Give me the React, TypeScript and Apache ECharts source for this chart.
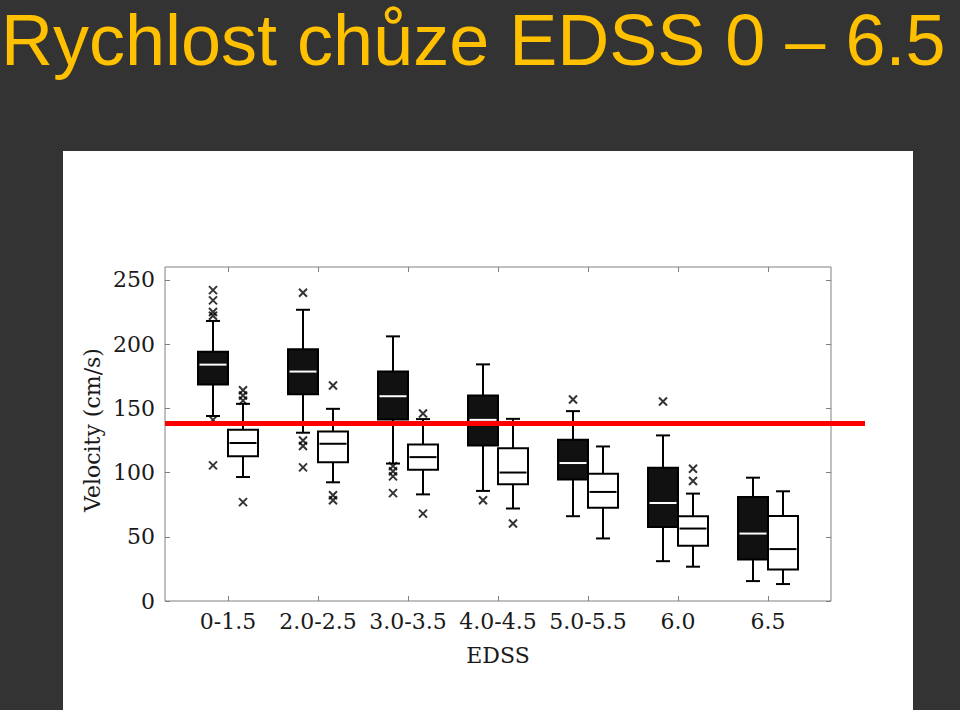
import React, { useEffect, useRef } from "react";
import * as echarts from "echarts";

const TITLE = "Rychlost chůze EDSS 0 – 6.5";
const Y_NAME = "Velocity (cm/s)";
const X_NAME = "EDSS";
const categories = ["0-1.5", "2.0-2.5", "3.0-3.5", "4.0-4.5", "5.0-5.5", "6.0", "6.5"];
const categoryPositions = [0, 1, 2, 3, 4, 5, 6];
const yTicks = [0, 50, 100, 150, 200, 250];

// [min, Q1, median, Q3, max]
const blackStats = [
  [144, 168.5, 184, 194, 218],
  [131, 161, 178.6, 196, 226.7],
  [107, 141.3, 159.4, 178.6, 206],
  [85.7, 121, 141, 160, 184.2],
  [66, 94.5, 107.4, 125.5, 147.8],
  [31, 57.7, 76.3, 103.8, 128.9],
  [15.5, 32.4, 52.5, 81, 96],
];
const whiteStats = [
  [96.5, 112.6, 123, 133.3, 153.5],
  [92.4, 108, 122.4, 132, 149.6],
  [83, 102.2, 112, 121.9, 141.6],
  [72, 90.8, 100, 119, 141.8],
  [48.7, 72.5, 84.9, 99, 120.3],
  [26.7, 43, 56.4, 66, 83.6],
  [13.2, 24.6, 40.4, 66.2, 85.4],
];
// [group index, value]
const blackOutliers = [
  [0, 242], [0, 234], [0, 225], [0, 222], [0, 141], [0, 105.6],
  [1, 240], [1, 125], [1, 120.6], [1, 104],
  [2, 105], [2, 101], [2, 97], [2, 84],
  [3, 78.4],
  [4, 156.8],
  [5, 155.3],
];
const whiteOutliers = [
  [0, 164], [0, 160], [0, 156], [0, 77],
  [1, 167.7], [1, 82.3], [1, 78.4],
  [2, 146], [2, 68],
  [3, 60.3],
  [5, 103], [5, 93.4],
];
const THRESHOLD = 138.2;

const X_MIN = -0.7;
const X_MAX = 6.7;
const Y_MIN = 0;
const Y_MAX = 260;
const SIDE = 1 / 6; // box centre offset from group centre (axis units)
const BOX_HALF = 1 / 6;
const CAP_HALF = 0.078;
const AXIS_GRAY = "#808080";
const TEXT_COLOR = "#1a1a1a";
const SERIF = "DejaVu Serif";

function boxRenderer(offset: number, fill: string, medianColor: string) {
  return (_params: any, api: any) => {
    const x = api.value(0) + offset;
    const pMin = api.coord([x, api.value(1)]);
    const cx = pMin[0];
    const yMin = pMin[1];
    const yQ1 = api.coord([x, api.value(2)])[1];
    const yMed = api.coord([x, api.value(3)])[1];
    const yQ3 = api.coord([x, api.value(4)])[1];
    const yMax = api.coord([x, api.value(5)])[1];
    const left = api.coord([x - BOX_HALF, 0])[0];
    const right = api.coord([x + BOX_HALF, 0])[0];
    const capL = api.coord([x - CAP_HALF, 0])[0];
    const capR = api.coord([x + CAP_HALF, 0])[0];
    const stroke = { stroke: "#000", lineWidth: 2, fill: "none" };
    return {
      type: "group",
      children: [
        { type: "line", shape: { x1: cx, y1: yMax, x2: cx, y2: yQ3 }, style: stroke },
        { type: "line", shape: { x1: capL, y1: yMax, x2: capR, y2: yMax }, style: stroke },
        { type: "line", shape: { x1: cx, y1: yQ1, x2: cx, y2: yMin }, style: stroke },
        { type: "line", shape: { x1: capL, y1: yMin, x2: capR, y2: yMin }, style: stroke },
        {
          type: "rect",
          shape: { x: left, y: yQ3, width: right - left, height: yQ1 - yQ3 },
          style: { fill, stroke: "#000", lineWidth: 2 },
        },
        {
          type: "line",
          shape: { x1: left + 1.5, y1: yMed, x2: right - 1.5, y2: yMed },
          style: { stroke: medianColor, lineWidth: 2 },
        },
      ],
    };
  };
}

const tickStyle = { show: true, inside: true, length: 5, lineStyle: { color: AXIS_GRAY, width: 1 } };
const hiddenLine = { show: false, onZero: false };

export default function App() {
  const ref = useRef<HTMLDivElement>(null);
  useEffect(() => {
    if (!ref.current) return;
    const chart = echarts.init(ref.current, undefined, { renderer: "svg" });
    const staticGraphics: any[] = [
      {
        id: "panel",
        type: "rect",
        z: -100,
        shape: { x: 63, y: 151, width: 850, height: 560 },
        style: { fill: "#ffffff" },
        silent: true,
      },
      {
        id: "title",
        type: "text",
        x: 1,
        y: 40,
        style: {
          text: TITLE,
          fill: "#FFC000",
          font: "72px 'Liberation Sans', Arial, sans-serif",
          align: "left",
          verticalAlign: "middle",
        },
      },
      {
        id: "yname",
        type: "text",
        x: 92,
        y: 430,
        rotation: Math.PI / 2,
        style: {
          text: Y_NAME,
          fill: TEXT_COLOR,
          font: `22px '${SERIF}'`,
          align: "center",
          verticalAlign: "middle",
        },
      },
    ];
    chart.setOption({
      animation: false,
      backgroundColor: "#333333",
      grid: {
        left: 165,
        right: 129,
        top: 267,
        bottom: 109,
        show: true,
        borderColor: AXIS_GRAY,
        borderWidth: 1,
        backgroundColor: "transparent",
      },
      graphic: { elements: staticGraphics },
      xAxis: [
        {
          type: "value",
          min: X_MIN,
          max: X_MAX,
          position: "bottom",
          axisLine: hiddenLine,
          splitLine: { show: false },
          axisTick: { ...tickStyle, customValues: categoryPositions },
          axisLabel: {
            customValues: categoryPositions,
            formatter: (v: number) => categories[Math.round(v)] ?? "",
            fontFamily: SERIF,
            fontSize: 22,
            color: TEXT_COLOR,
            margin: 9,
          },
          name: X_NAME,
          nameLocation: "middle",
          nameGap: 43,
          nameTextStyle: { fontFamily: SERIF, fontSize: 22, color: TEXT_COLOR },
        },
        {
          type: "value",
          min: X_MIN,
          max: X_MAX,
          position: "top",
          axisLine: hiddenLine,
          splitLine: { show: false },
          axisTick: { ...tickStyle, customValues: categoryPositions },
          axisLabel: { show: false },
        },
      ],
      yAxis: [
        {
          type: "value",
          min: Y_MIN,
          max: Y_MAX,
          position: "left",
          axisLine: hiddenLine,
          splitLine: { show: false },
          axisTick: { ...tickStyle, customValues: yTicks },
          axisLabel: {
            customValues: yTicks,
            fontFamily: SERIF,
            fontSize: 22,
            color: TEXT_COLOR,
            margin: 10,
          },
        },
        {
          type: "value",
          min: Y_MIN,
          max: Y_MAX,
          position: "right",
          axisLine: hiddenLine,
          splitLine: { show: false },
          axisTick: { ...tickStyle, customValues: yTicks },
          axisLabel: { show: false },
        },
      ],
      series: [
        {
          type: "custom",
          name: "black",
          renderItem: boxRenderer(-SIDE, "#111111", "#ffffff"),
          data: blackStats.map((s, i) => [categoryPositions[i], ...s]),
          encode: { x: 0, y: [1, 2, 3, 4, 5] },
          z: 3,
        },
        {
          type: "custom",
          name: "white",
          renderItem: boxRenderer(SIDE, "#ffffff", "#000000"),
          data: whiteStats.map((s, i) => [categoryPositions[i], ...s]),
          encode: { x: 0, y: [1, 2, 3, 4, 5] },
          z: 3,
        },
        {
          type: "scatter",
          data: blackOutliers,
          symbol: "path://M0 0L10 10M10 0L0 10",
          symbolSize: 8,
          symbolOffset: [-15, 0],
          itemStyle: { color: "none", borderColor: "#000", borderWidth: 2 },
          z: 4,
        },
        {
          type: "scatter",
          data: whiteOutliers,
          symbol: "path://M0 0L10 10M10 0L0 10",
          symbolSize: 8,
          symbolOffset: [15, 0],
          itemStyle: { color: "none", borderColor: "#000", borderWidth: 2 },
          z: 4,
        },
      ],
    });
    const yPix = chart.convertToPixel({ yAxisIndex: 0 }, THRESHOLD) as number;
    const xStart = chart.convertToPixel({ xAxisIndex: 0 }, X_MIN) as number;
    chart.setOption({
      graphic: {
        elements: [
          ...staticGraphics,
          {
            id: "threshold",
            type: "line",
            z: 100,
            shape: { x1: xStart, y1: yPix, x2: 865, y2: yPix },
            style: { stroke: "#ff0000", lineWidth: 5 },
          },
        ],
      },
    });
    return () => chart.dispose();
  }, []);
  return (
    <div
      ref={ref}
      style={{ position: "fixed", left: 0, top: 0, width: 960, height: 710 }}
    />
  );
}
